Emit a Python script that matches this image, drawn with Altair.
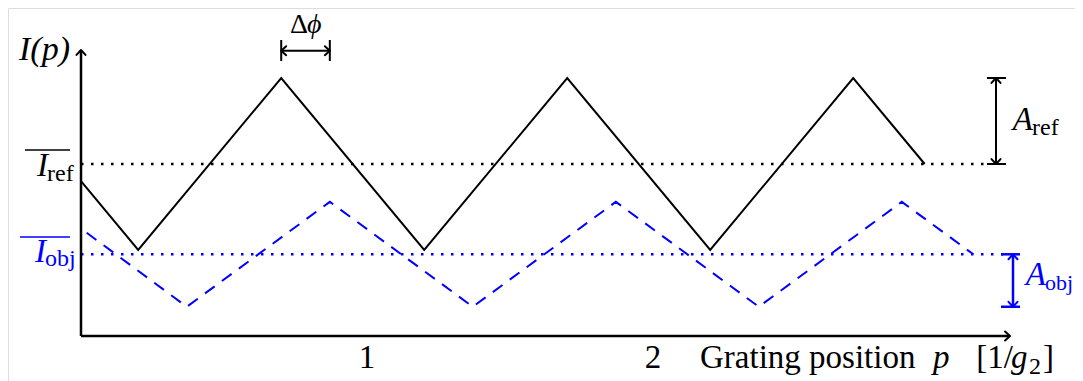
import altair as alt
import pandas as pd

# ---------------- data ----------------
ref_p = [0.0, 0.2, 0.7, 1.2, 1.7, 2.2, 2.7, 2.95]
ref_I = [0.9, 0.5, 1.5, 0.5, 1.5, 0.5, 1.5, 1.0]
obj_p = [0.02, 0.37, 0.87, 1.37, 1.87, 2.37, 2.87, 3.12]
obj_I = [0.6, 0.17, 0.78, 0.17, 0.78, 0.17, 0.78, 0.475]
ref_mean = 1.0
ref_peak = 1.5
obj_mean = 0.475
obj_trough = 0.17
phase_from = 0.7
phase_to = 0.87
tick_values = [1, 2]
tick_labels = ["1", "2"]

# ---------------- layout ----------------
W, H = 1067, 373
X0_PX, PX_PER_P = 81.0, 286.0
Y0_PX, PX_PER_I = 336.0, 172.0
XD = [(8 - X0_PX) / PX_PER_P, (8 + W - X0_PX) / PX_PER_P]
YD = [(Y0_PX - 8 - H) / PX_PER_I, (Y0_PX - 8) / PX_PER_I]


def pp(xpx):
    return (xpx - X0_PX) / PX_PER_P


def ii(ypx):
    return (Y0_PX - ypx) / PX_PER_I


xs = alt.Scale(domain=XD, nice=False, zero=False)
ys = alt.Scale(domain=YD, nice=False, zero=False)
FONT = "Liberation Serif"
BLUE = "#0000ff"
BIG = 33
SUB = 24


def line_layer(p, I, **kw):
    df = pd.DataFrame({"p": p, "I": I, "k": list(range(len(p)))})
    return alt.Chart(df).mark_line(**kw).encode(
        x=alt.X("p:Q", scale=xs, axis=None),
        y=alt.Y("I:Q", scale=ys, axis=None),
        order="k:Q",
    )


def seg_layer(segs, **kw):
    df = pd.DataFrame(segs, columns=["x", "y", "x2", "y2"])
    return alt.Chart(df).mark_rule(**kw).encode(
        x=alt.X("x:Q", scale=xs, axis=None),
        y=alt.Y("y:Q", scale=ys, axis=None),
        x2="x2:Q",
        y2="y2:Q",
    )


def tip_layer(pts, shape, color="black"):
    df = pd.DataFrame(pts, columns=["x", "y"])
    return alt.Chart(df).mark_point(
        shape=shape, filled=False, stroke=color, strokeWidth=2, size=81,
        opacity=1, strokeCap="round", strokeJoin="round",
    ).encode(
        x=alt.X("x:Q", scale=xs, axis=None),
        y=alt.Y("y:Q", scale=ys, axis=None),
    )


def text_layer(items, align, size, style="normal", color="black"):
    df = pd.DataFrame(items, columns=["t", "x", "y"])
    return alt.Chart(df).mark_text(
        align=align, baseline="alphabetic", font=FONT, fontSize=size,
        fontStyle=style, color=color,
    ).encode(
        x=alt.X("x:Q", scale=xs, axis=None),
        y=alt.Y("y:Q", scale=ys, axis=None),
        text="t:N",
    )


UP = "M -1 1.1 L 0 0 L 1 1.1"
DOWN = "M -1 -1.1 L 0 0 L 1 -1.1"
RIGHT = "M -1.1 -1 L 0 0 L -1.1 1"
LEFT = "M 1.1 -1 L 0 0 L 1.1 1"

y_tip = ii(50)
x_tip = pp(1010)
arr_y = ii(50.7)
aref_x = pp(996)
aobj_x = pp(1013)

layers = [
    # dotted mean lines
    seg_layer([(0, ref_mean, pp(987), ref_mean)], color="black", strokeWidth=2.5,
              strokeDash=[2.5, 7.5]),
    seg_layer([(0, obj_mean, pp(1003), obj_mean)], color=BLUE, strokeWidth=2.5,
              strokeDash=[2.5, 7.5]),
    # curves
    line_layer(obj_p, obj_I, color=BLUE, strokeWidth=2, strokeDash=[12, 9]),
    line_layer(ref_p, ref_I, color="black", strokeWidth=2),
    # axes
    seg_layer([(0, 0, 0, y_tip), (0, 0, x_tip, 0)], color="black", strokeWidth=2.5),
    # delta phi arrow
    seg_layer([(phase_from, arr_y, phase_to, arr_y),
               (phase_from, ii(40), phase_from, ii(61)),
               (phase_to, ii(40), phase_to, ii(61))], color="black", strokeWidth=2),
    # A_ref arrow
    seg_layer([(aref_x, ref_mean, aref_x, ref_peak),
               (pp(987), ref_peak, pp(1006), ref_peak),
               (pp(987), ref_mean, pp(1006), ref_mean)], color="black", strokeWidth=2),
    # A_obj arrow
    seg_layer([(aobj_x, obj_trough, aobj_x, obj_mean),
               (pp(1001), obj_mean, pp(1020), obj_mean),
               (pp(1001), obj_trough, pp(1020), obj_trough)], color=BLUE, strokeWidth=2.5),
    # overlines
    seg_layer([(pp(25), ii(150), pp(70), ii(150))], color="black", strokeWidth=1.5),
    seg_layer([(pp(20), ii(237), pp(70), ii(237))], color=BLUE, strokeWidth=1.5),
    # arrow tips
    tip_layer([(0, y_tip), (aref_x, ref_peak)], UP),
    tip_layer([(aobj_x, obj_mean)], UP, BLUE),
    tip_layer([(aref_x, ref_mean)], DOWN),
    tip_layer([(aobj_x, obj_trough)], DOWN, BLUE),
    tip_layer([(x_tip, 0), (phase_to, arr_y)], RIGHT),
    tip_layer([(phase_from, arr_y)], LEFT),
    # texts
    text_layer([("I(p)", pp(70), ii(60))], "right", BIG + 1, "italic"),
    text_layer([("I", pp(48), ii(176)), ("A", pp(1033), ii(130))], "right", BIG, "italic"),
    text_layer([("p", pp(933), ii(368)), ("g", pp(1011), ii(368))], "left", BIG, "italic"),
    text_layer([("I", pp(46), ii(262)), ("A", pp(1046), ii(285))], "right", BIG, "italic", BLUE),
    text_layer([(lab, v, ii(368)) for lab, v in zip(tick_labels, tick_values)], "center", BIG),
    text_layer([("Grating position", pp(700), ii(368)), ("]", pp(1043), ii(368))], "left", BIG),
    text_layer([("[1/", pp(1013), ii(368))], "right", BIG),
    text_layer([("ref", pp(47), ii(181)), ("ref", pp(1032), ii(135)),
                ("2", pp(1029), ii(374))], "left", SUB),
    text_layer([("obj", pp(45), ii(266))], "left", SUB, "normal", BLUE),
    text_layer([("obj", pp(1045), ii(290))], "left", 22, "normal", BLUE),
    text_layer([("Δ", pp(308), ii(33))], "right", 28),
    text_layer([("ϕ", pp(307), ii(33))], "left", 28, "italic"),
]

chart = alt.layer(*layers).properties(
    width=W, height=H, padding=0,
    autosize=alt.AutoSizeParams(type="none"),
).configure_view(stroke=None).configure(background="white")

chart.save("out.html", embed_options={"renderer": "svg", "actions": False})
